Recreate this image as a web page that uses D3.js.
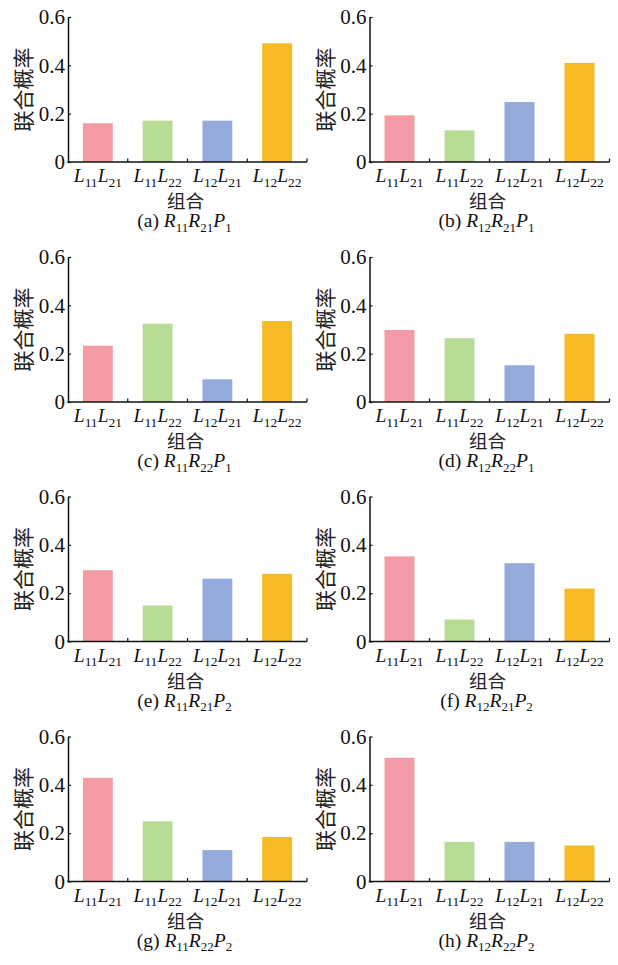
<!DOCTYPE html>
<html>
<head>
<meta charset="utf-8">
<script src="https://cdn.jsdelivr.net/npm/d3@7"></script>
<style>
  html, body { margin: 0; padding: 0; background: #fff; }
  svg { display: block; }
</style>
</head>
<body>
<svg id="chart" width="618" height="965"></svg>
<script>
// ---- data ----
const categories = ["L11L21", "L11L22", "L12L21", "L12L22"];
const yTicks = [0, 0.2, 0.4, 0.6];
const colors = ["#F49BA6", "#B8DC95", "#93AADB", "#F6BB22"];
const yLabel = "联合概率";
const xLabel = "组合";
const panelLetters = ["a", "b", "c", "d", "e", "f", "g", "h"];
const panelR1 = ["11", "12", "11", "12", "11", "12", "11", "12"];
const panelR2 = ["21", "21", "22", "22", "21", "21", "22", "22"];
const panelP  = ["1", "1", "1", "1", "2", "2", "2", "2"];
const valuesA = [0.160, 0.171, 0.171, 0.491];
const valuesB = [0.193, 0.131, 0.248, 0.410];
const valuesC = [0.233, 0.324, 0.094, 0.335];
const valuesD = [0.298, 0.264, 0.152, 0.282];
const valuesE = [0.295, 0.149, 0.260, 0.280];
const valuesF = [0.352, 0.091, 0.324, 0.219];
const valuesG = [0.429, 0.249, 0.130, 0.184];
const valuesH = [0.512, 0.164, 0.164, 0.149];
const panelValues = [valuesA, valuesB, valuesC, valuesD, valuesE, valuesF, valuesG, valuesH];

// ---- layout ----
const colX = [[68, 307], [369.5, 609.5]];
const rowBase = [162, 402, 641.5, 881.5];
const plotH = 145;
const serif = "'Liberation Serif', 'Times New Roman', serif";
const cjk = "'Noto Sans CJK SC', sans-serif";

const svg = d3.select("#chart");

function richText(sel, parts, mainSize, subSize) {
  let shifted = false;
  parts.forEach(p => {
    const t = sel.append("tspan").text(p.t);
    if (p.sub) {
      t.attr("font-size", subSize).attr("dy", shifted ? 0 : subSize * 0.35);
      shifted = true;
    } else {
      t.attr("font-size", mainSize).attr("dy", shifted ? -subSize * 0.35 : 0);
      shifted = false;
      if (p.italic) t.attr("font-style", "italic");
    }
  });
}

function catParts(c) {
  return [
    { t: "L", italic: true }, { t: c.slice(1, 3), sub: true },
    { t: "L", italic: true }, { t: c.slice(4, 6), sub: true }
  ];
}

panelValues.forEach((vals, i) => {
  const col = i % 2, row = Math.floor(i / 2);
  const [x0, x1] = colX[col];
  const yb = rowBase[row];

  const x = d3.scaleBand().domain(categories).range([x0, x1])
    .paddingInner(0.5).paddingOuter(0.25);
  const y = d3.scaleLinear().domain([0, 0.6]).range([yb, yb - plotH]);

  const g = svg.append("g");

  // bars
  g.selectAll("rect.bar").data(vals).join("rect")
    .attr("class", "bar")
    .attr("x", (d, k) => x(categories[k]))
    .attr("width", x.bandwidth())
    .attr("y", d => y(d))
    .attr("height", d => y(0) - y(d))
    .attr("fill", (d, k) => colors[k]);

  // y axis
  const yAxis = d3.axisLeft(y).tickValues(yTicks)
    .tickFormat(d => d === 0 ? "0" : d3.format(".1f")(d))
    .tickSizeInner(-3).tickSizeOuter(0).tickPadding(3);
  const ya = g.append("g").attr("transform", `translate(${x0},0)`).call(yAxis);
  ya.attr("font-family", serif).attr("font-size", 21);
  ya.select(".domain").attr("stroke", "#111").attr("stroke-width", 1.5);
  ya.selectAll(".tick line").attr("stroke", "#111").attr("stroke-width", 1.2);
  ya.selectAll(".tick text").attr("font-family", serif).attr("font-size", 21)
    .attr("fill", "#111");

  // x axis line
  g.append("line").attr("x1", x0 - 0.75).attr("x2", x1).attr("y1", yb).attr("y2", yb)
    .attr("stroke", "#111").attr("stroke-width", 1.5);
  // boundary ticks between bands
  const step = x.step();
  const bounds = categories.slice(1).map(c => x(c) - (step - x.bandwidth()) / 2);
  bounds.push(x1);
  g.selectAll("line.bt").data(bounds).join("line").attr("class", "bt")
    .attr("x1", d => d).attr("x2", d => d).attr("y1", yb).attr("y2", yb - 3.5)
    .attr("stroke", "#111").attr("stroke-width", 1.2);

  // x tick labels
  categories.forEach(c => {
    const t = g.append("text")
      .attr("x", x(c) + x.bandwidth() / 2)
      .attr("y", yb + 20)
      .attr("text-anchor", "middle")
      .attr("font-family", serif).attr("fill", "#111");
    richText(t, catParts(c), 19.5, 13.5);
  });

  const cx = (x0 + x1) / 2;
  // x label
  g.append("text").attr("x", cx - 2).attr("y", yb + 46)
    .attr("text-anchor", "middle").attr("font-family", cjk)
    .attr("font-size", 18.5).attr("fill", "#222").text(xLabel);

  // caption
  const cap = g.append("text").attr("x", cx - 3).attr("y", yb + 65)
    .attr("text-anchor", "middle").attr("font-family", serif).attr("fill", "#111");
  richText(cap, [
    { t: `(${panelLetters[i]}) ` },
    { t: "R", italic: true }, { t: panelR1[i], sub: true },
    { t: "R", italic: true }, { t: panelR2[i], sub: true },
    { t: "P", italic: true }, { t: panelP[i], sub: true }
  ], 19.5, 13);

  // y label
  g.append("text")
    .attr("transform", `translate(${x0 - 46},${yb - plotH / 2}) rotate(-90)`)
    .attr("text-anchor", "middle").attr("dominant-baseline", "central")
    .attr("font-family", cjk).attr("font-size", 21).attr("fill", "#222")
    .text(yLabel);
});
</script>
</body>
</html>
